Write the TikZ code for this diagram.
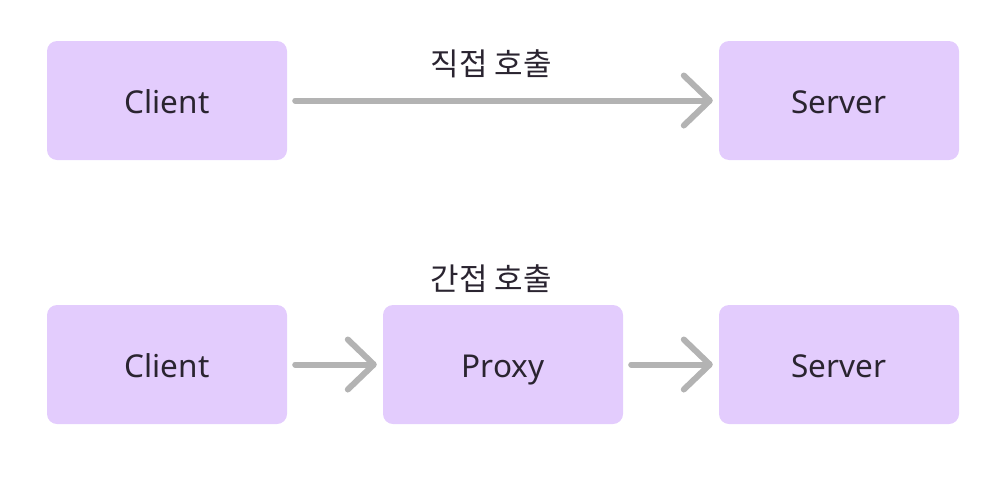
\documentclass[tikz,border=0pt]{standalone}
\usepackage{fontspec}
\setmainfont{Noto Sans}
\newfontfamily\kr{Noto Sans CJK KR}
\usetikzlibrary{arrows.meta}
\definecolor{boxfill}{HTML}{E3CCFD}
\definecolor{txt}{HTML}{2A2430}
\definecolor{arr}{HTML}{B3B3B3}
\begin{document}
\begin{tikzpicture}[x=1pt,y=-1pt,
  box/.style={fill=boxfill,rounded corners=10pt,minimum width=240pt,minimum height=119pt,inner sep=0pt,font=\fontsize{31.5}{34}\selectfont,text=txt,text height=28pt,text depth=3pt},
  lbl/.style={font=\kr\fontsize{31}{34}\selectfont,text=txt,inner sep=0pt},
  conn/.style={draw=arr,line width=6pt,line cap=round,-{Straight Barb[length=26pt,width=50pt,round]},shorten <=8pt,shorten >=6pt}]
\useasboundingbox (0,0) rectangle (981,477);
\node[box] (c1) at (167,100.5) {Client};
\node[box] (s1) at (839,100.5) {Server};
\node[box] (c2) at (167,364.5) {Client};
\node[box] (p2) at (503,364.5) {Proxy};
\node[box] (s2) at (839,364.5) {Server};
\node[lbl] (l1) at (491,64) {직접 호출};
\node[lbl] (l2) at (491,279) {간접 호출};
\draw[conn] (c1) -- (s1);
\draw[conn] (c2) -- (p2);
\draw[conn] (p2) -- (s2);
\end{tikzpicture}
\end{document}
